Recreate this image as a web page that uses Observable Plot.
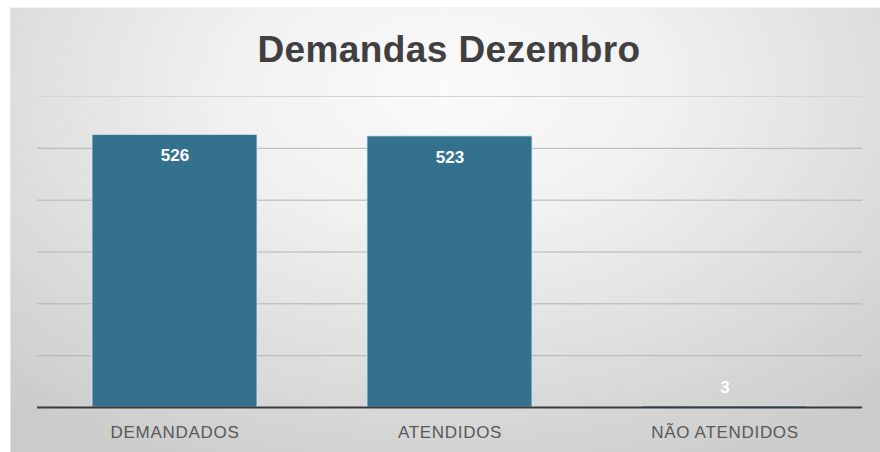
<!DOCTYPE html>
<html>
<head>
<meta charset="utf-8">
<script src="https://cdn.jsdelivr.net/npm/d3@7"></script>
<script src="https://cdn.jsdelivr.net/npm/@observablehq/plot@0.6"></script>
<style>
  html, body { margin: 0; padding: 0; background: #ffffff; }
  #wrap { position: relative; width: 880px; height: 452px; overflow: hidden; }
  #panel {
    position: absolute; left: 10px; top: 7px; width: 870px; height: 445px;
    background: radial-gradient(ellipse 75% 95% at 50% 18%, #fbfbfb 0%, #f0f0f0 35%, #dcdcdc 70%, #cbcbcb 100%);
    border-left: 1px solid #e4e4e4; border-top: 1px solid #f4f4f4;
  }
  #title {
    position: absolute; left: 18px; width: 862px; top: 31px;
    text-align: center; font-family: "Liberation Sans", Arial, sans-serif;
    font-weight: bold; font-size: 37px; line-height: 37px; color: #404040;
    letter-spacing: 0.4px;
  }
  #chart { position: absolute; left: 0; top: 0; }
  .xlabels text { letter-spacing: 0.7px; }
</style>
</head>
<body>
<div id="wrap">
  <div id="panel"></div>
  <div id="chart"></div>
  <div id="title">Demandas Dezembro</div>
</div>
<script>
const categories = ["DEMANDADOS", "ATENDIDOS", "NÃO ATENDIDOS"];
const values = [526, 523, 3];
const gridTicks = [100, 200, 300, 400, 500, 600];

const data = categories.map((c, i) => ({category: c, value: values[i]}));

const plot = Plot.plot({
  width: 880,
  height: 452,
  marginLeft: 37,
  marginRight: 18,
  marginTop: 96,
  marginBottom: 45,
  style: {background: "transparent", fontFamily: "Liberation Sans, Arial, sans-serif", overflow: "visible"},
  x: {domain: categories, paddingInner: 0.4, paddingOuter: 0.2, label: null},
  y: {domain: [0, 600], label: null},
  marks: [
    Plot.ruleY(gridTicks, {stroke: d => d >= 600 ? "#d4d4d4" : "#b4b4b4", strokeWidth: 1}),
    Plot.barY(data, {x: "category", y: "value", fill: "#33718f", stroke: "#dfe8ec", strokeWidth: 0.8}),
    Plot.ruleY([0], {stroke: "#3a3a3a", strokeWidth: 2}),
    Plot.text(data.filter(d => d.value >= 50), {x: "category", y: "value", text: d => String(d.value), dy: 21, fill: "#ffffff", fontSize: 17, fontWeight: "bold"}),
    Plot.text(data.filter(d => d.value < 50), {x: "category", y: "value", text: d => String(d.value), dy: -18, fill: "#ffffff", fontSize: 17, fontWeight: "bold"}),
    Plot.axisX({tickSize: 0, tickPadding: 18, fontSize: 17, fill: "#595959", label: null, className: "xlabels"}),
    Plot.axisY({ticks: [], label: null, tickSize: 0})
  ]
});
document.getElementById("chart").appendChild(plot);
</script>
</body>
</html>
